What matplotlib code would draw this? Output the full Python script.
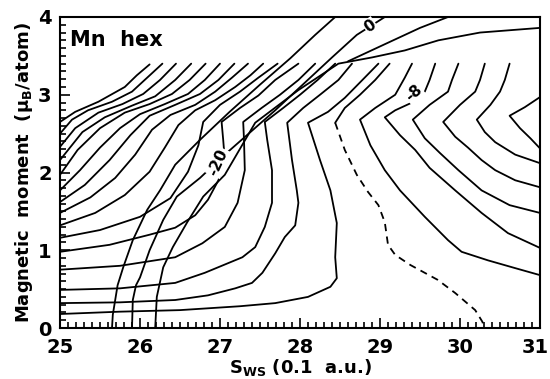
import matplotlib
matplotlib.use("Agg")
import matplotlib.pyplot as plt
from matplotlib.ticker import MultipleLocator, FixedFormatter

plt.rcParams['font.family'] = ['DejaVu Sans']
plt.rcParams['font.weight'] = 'bold'
plt.rcParams['axes.labelweight'] = 'bold'
plt.rcParams['mathtext.default'] = 'bf'

s_ticks = [25, 26, 27, 28, 29, 30, 31]

# contours entering from the left edge, bottom to top: (S, M) pairs
left_contours = [
    [(25, 0.18), (25.75, 0.21), (26.5, 0.23), (27.25, 0.28), (27.69, 0.32), (28.1, 0.40),
     (28.38, 0.53), (28.46, 0.64), (28.44, 0.91), (28.46, 1.35), (28.38, 1.77), (28.25, 2.16),
     (28.1, 2.64), (28.35, 2.78), (28.56, 2.96), (28.78, 3.19), (28.98, 3.40)],
    [(25, 0.32), (25.75, 0.33), (26.44, 0.36), (26.85, 0.42), (27.19, 0.51), (27.4, 0.58),
     (27.53, 0.71), (27.69, 0.96), (27.81, 1.17), (27.94, 1.32), (27.98, 1.61), (27.96, 1.77),
     (27.9, 2.16), (27.84, 2.64), (28.04, 2.83), (28.25, 3.0), (28.48, 3.19), (28.65, 3.40)],
    [(25, 0.49), (25.75, 0.51), (26.44, 0.58), (26.81, 0.71), (27.28, 0.91), (27.44, 1.04),
     (27.56, 1.30), (27.65, 1.61), (27.65, 2.03), (27.59, 2.42), (27.56, 2.65), (27.79, 2.83),
     (28.0, 3.0), (28.22, 3.19), (28.44, 3.40)],
    [(25, 0.75), (25.75, 0.80), (26.44, 0.91), (26.78, 1.09), (27.06, 1.30), (27.22, 1.61),
     (27.31, 2.03), (27.3, 2.42), (27.29, 2.65), (27.52, 2.83), (27.75, 3.0), (27.98, 3.19),
     (28.19, 3.40)],
    [(25, 0.98), (25.62, 1.07), (26.12, 1.20), (26.44, 1.29), (26.69, 1.45), (26.85, 1.65),
     (26.98, 1.90), (27.06, 2.16), (27.04, 2.42), (27.02, 2.65), (27.25, 2.83), (27.48, 2.99),
     (27.69, 3.19), (27.98, 3.40)],
    [(25, 1.16), (25.5, 1.26), (26, 1.43), (26.38, 1.67), (26.6, 2.01), (26.73, 2.35),
     (26.79, 2.65), (27.0, 2.87), (27.25, 3.04), (27.48, 3.22), (27.72, 3.40)],
    [(25, 1.32), (25.44, 1.48), (25.81, 1.71), (26.12, 2.01), (26.31, 2.32), (26.48, 2.61),
     (26.69, 2.80), (26.94, 2.93), (27.19, 3.10), (27.38, 3.25), (27.54, 3.40)],
    [(25, 1.48), (25.38, 1.68), (25.69, 1.93), (25.94, 2.23), (26.15, 2.55), (26.38, 2.74),
     (26.69, 2.87), (26.94, 3.04), (27.15, 3.22), (27.35, 3.40)],
    [(25, 1.62), (25.31, 1.84), (25.62, 2.16), (25.88, 2.48), (26.12, 2.73), (26.44, 2.87),
     (26.75, 3.01), (26.98, 3.19), (27.18, 3.40)],
    [(25, 1.77), (25.25, 2.03), (25.5, 2.32), (25.75, 2.57), (26.0, 2.75), (26.31, 2.88),
     (26.6, 3.01), (26.81, 3.19), (27.0, 3.40)],
    [(25, 1.97), (25.22, 2.29), (25.5, 2.57), (25.81, 2.77), (26.12, 2.88), (26.4, 3.01),
     (26.62, 3.19), (26.82, 3.40)],
    [(25, 2.16), (25.28, 2.52), (25.56, 2.71), (25.9, 2.86), (26.19, 2.98), (26.44, 3.19),
     (26.64, 3.40)],
    [(25, 2.33), (25.19, 2.57), (25.48, 2.77), (25.78, 2.88), (26.04, 3.01), (26.25, 3.19),
     (26.45, 3.40)],
    [(25, 2.50), (25.15, 2.68), (25.35, 2.80), (25.65, 2.91), (25.9, 3.04), (26.09, 3.22),
     (26.28, 3.40)],
    [(25, 2.65), (25.19, 2.78), (25.48, 2.91), (25.81, 3.10), (25.96, 3.25), (26.12, 3.39)],
]

# chevron contours around the high-moment minimum at large S
right_contours = [
    [(28.44, 2.64), (28.56, 2.83), (28.75, 3.0), (28.94, 3.19), (29.12, 3.40)],
    [(29.4, 3.40), (29.31, 3.22), (29.19, 3.0), (28.94, 2.83), (28.75, 2.68), (28.88, 2.35),
     (29.06, 2.03), (29.25, 1.77), (29.56, 1.43), (29.85, 1.13), (30.02, 0.98), (30.35, 0.87),
     (30.69, 0.77), (31, 0.68)],
    [(29.69, 3.40), (29.62, 3.19), (29.56, 3.04), (29.38, 2.89), (29.19, 2.80), (29.06, 2.71),
     (29.25, 2.48), (29.44, 2.29), (29.62, 2.06), (29.94, 1.77), (30.27, 1.48), (30.6, 1.22),
     (31, 1.03)],
    [(29.98, 3.40), (29.9, 3.19), (29.85, 3.04), (29.62, 2.87), (29.41, 2.68), (29.56, 2.44),
     (29.75, 2.25), (29.98, 2.03), (30.27, 1.77), (30.62, 1.58), (31, 1.48)],
    [(30.31, 3.40), (30.25, 3.19), (30.19, 3.04), (30.0, 2.87), (29.79, 2.65), (29.94, 2.46),
     (30.1, 2.32), (30.27, 2.16), (30.44, 2.03), (30.69, 1.90), (31, 1.81)],
    [(30.62, 3.40), (30.56, 3.19), (30.5, 3.04), (30.38, 2.87), (30.21, 2.68), (30.31, 2.52),
     (30.44, 2.39), (30.69, 2.23), (31, 2.12)],
    [(31, 2.97), (30.81, 2.84), (30.62, 2.73), (30.75, 2.57), (30.88, 2.44), (31, 2.31)],
]

# long curves rising from the S axis
steep_curves = [
    [(25.65, 0.0), (25.66, 0.17), (25.69, 0.36), (25.72, 0.55), (25.79, 0.78), (25.91, 1.13),
     (26.09, 1.52), (26.25, 1.77), (26.44, 2.10), (26.75, 2.42), (27.12, 2.78), (27.5, 3.13),
     (27.88, 3.47), (28.19, 3.77), (28.44, 4.0)],
    [(25.9, 0.0), (25.91, 0.36), (25.95, 0.55), (26.0, 0.65), (26.12, 1.00), (26.29, 1.39),
     (26.46, 1.69), (26.75, 1.93), (27.06, 2.23), (27.69, 2.80), (27.94, 3.04), (28.4, 3.48),
     (28.71, 3.77), (29.06, 4.0)],
    [(26.19, 0.0), (26.21, 0.40), (26.29, 0.78), (26.41, 1.04), (26.59, 1.36), (26.79, 1.69),
     (27.06, 1.97), (27.44, 2.64), (27.98, 3.06), (28.48, 3.40), (28.9, 3.48), (29.31, 3.57),
     (29.73, 3.70), (30.25, 3.80), (31, 3.86)],
    [(28.6, 3.43), (29.06, 3.65), (29.5, 3.86), (29.85, 4.0)],
]

# lower branch drawn dashed
dashed_branch = [(28.44, 2.64), (28.56, 2.29), (28.71, 1.97), (28.85, 1.75), (28.98, 1.58),
                 (29.06, 1.36), (29.1, 1.07), (29.19, 0.94), (29.38, 0.81), (29.72, 0.62),
                 (29.94, 0.45), (30.19, 0.23), (30.28, 0.08), (30.3, 0.0)]

fig = plt.figure(figsize=(5.5, 3.79), dpi=100)
ax = fig.add_axes([60 / 550, 1 - 328 / 379, 480 / 550, 311 / 379])

for line in left_contours + right_contours + steep_curves:
    s, m = zip(*line)
    ax.plot(s, m, color='black', lw=1.3, solid_capstyle='round')
s, m = zip(*dashed_branch)
ax.plot(s, m, color='black', lw=1.3, ls=(0, (4, 3)))

# contour labels
box = dict(facecolor='white', edgecolor='none', pad=0.5)
ax.text(28.88, 3.88, '0', rotation=35, ha='center', va='center', fontsize=11, bbox=box)
ax.text(29.42, 3.02, '-8', rotation=40, ha='center', va='center', fontsize=11, bbox=box)
ax.text(26.98, 2.13, '-20', rotation=65, ha='center', va='center', fontsize=11, bbox=box)

ax.text(25.12, 3.7, 'Mn  hex', fontsize=15, va='center')

ax.set_xlim(25, 31)
ax.set_ylim(0, 4)
ax.set_xticks(s_ticks)
# last S label is drawn a little inside the right image edge
ax.xaxis.set_major_formatter(FixedFormatter([str(v) for v in s_ticks[:-1]] + ['']))
ax.text(30.94, -0.031, str(s_ticks[-1]), transform=ax.get_xaxis_transform(),
        ha='center', va='top', fontsize=14)
ax.xaxis.set_minor_locator(MultipleLocator(0.1))
ax.yaxis.set_major_locator(MultipleLocator(1))
ax.yaxis.set_minor_locator(MultipleLocator(0.1))
ax.tick_params(which='both', direction='in', top=False, right=False, width=1.2)
ax.tick_params(which='major', length=7.5, labelsize=14)
ax.tick_params(which='minor', length=4.5)
ax.tick_params(axis='x', which='major', pad=7)
ax.tick_params(axis='y', which='major', pad=6)
for sp in ax.spines.values():
    sp.set_linewidth(1.5)

ax.set_xlabel(r'$S_{WS}$ (0.1  a.u.)', fontsize=13, labelpad=0)
ax.set_ylabel(r'Magnetic  moment  ($\mu_B$/atom)', fontsize=13, labelpad=2)

fig.savefig('out.png', dpi=100)
